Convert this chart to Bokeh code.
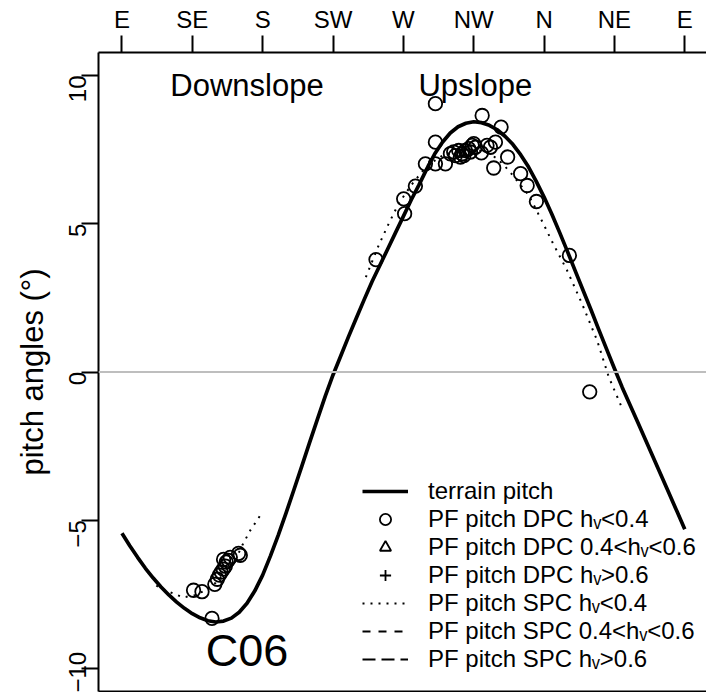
import math
from bokeh.plotting import figure
from bokeh.models import Range1d, LinearAxis, FixedTicker, Legend, LegendItem, Span, Label
from bokeh.embed import file_html
from bokeh.resources import INLINE

FONT = "Liberation Sans"
NAN = float("nan")

# ---- data -------------------------------------------------------------
dir_ticks = [90, 135, 180, 225, 270, 315, 360, 405, 450]
dir_labels = ["E", "SE", "S", "SW", "W", "NW", "N", "NE", "E"]
pitch_ticks = [-10, -5, 0, 5, 10]

terrain_dir = [90, 95, 100, 105, 110, 115, 120, 125, 130, 135, 140, 145, 150, 155, 160,
               165, 170, 175, 180, 185, 190, 195, 200, 205, 210, 215, 220, 225, 230, 235,
               240, 245, 250, 255, 260, 265, 270, 275, 280, 285, 290, 295, 300, 305, 310,
               315, 320, 325, 330, 335, 340, 345, 350, 355, 360, 365, 370, 375, 380, 385,
               390, 395, 400, 405, 410, 415, 420, 425, 430, 435, 440, 445, 450]
terrain_pitch = [-5.44, -5.86, -6.25, -6.62, -6.95, -7.25, -7.52, -7.76, -7.97, -8.15,
                 -8.29, -8.39, -8.43, -8.4, -8.3, -8.1, -7.8, -7.38, -6.85, -6.2,
                 -5.5, -4.75, -3.97, -3.18, -2.38, -1.6, -0.82, -0.1, 0.55, 1.2,
                 1.83, 2.45, 3.05, 3.6, 4.15, 4.7, 5.25, 5.8, 6.31, 6.85, 7.35, 7.75,
                 8.06, 8.27, 8.39, 8.44, 8.41, 8.32, 8.17, 7.95, 7.68, 7.33, 6.92, 6.43,
                 5.9, 5.32, 4.7, 4.06, 3.4, 2.75, 2.1, 1.43, 0.77, 0.12, -0.52, -1.11,
                 -1.7, -2.3, -2.9, -3.5, -4.1, -4.7, -5.3]

dpc_low_dir = [135.8, 141.2, 147.6, 149.4, 151.0, 152.3, 153.5, 154.8, 156.1, 156.7,
               158.0, 159.3, 155.0, 164.6, 165.7,
               252.5, 270.2, 270.8, 277.7, 284.1, 290.5, 296.9, 290.5, 290.5,
               300.1, 302.2, 303.3, 305.4, 306.5, 307.6, 309.7, 311.8, 314.0, 315.0,
               316.1, 312.9, 308.7, 319.9, 323.5, 325.7, 328.9, 320.4, 332.5, 336.7,
               327.8, 345.0, 349.2, 355.1, 376.2, 389.2]
dpc_low_pitch = [-7.36, -7.41, -8.31, -7.16, -6.99, -6.85, -6.75, -6.65, -6.55, -6.41,
                 -6.35, -6.25, -6.32, -6.12, -6.18,
                 3.79, 5.84, 5.34, 6.27, 7.02, 7.02, 7.02, 7.75, 9.05,
                 7.36, 7.42, 7.30, 7.47, 7.25, 7.36, 7.47, 7.53, 7.64, 7.70,
                 7.58, 7.42, 7.30, 7.39, 7.64, 7.58, 7.75, 8.65, 8.26, 7.25,
                 6.88, 6.69, 6.29, 5.75, 3.93, -0.67]

# no observations in these classes (shown in the legend only)
dpc_mid_dir, dpc_mid_pitch = [NAN], [NAN]
dpc_high_dir, dpc_high_pitch = [NAN], [NAN]

spc_low_down_dir = [112.0, 114.6, 120.9, 129.2, 136.9, 143.3, 149.7, 156.1, 162.5, 167.0,
                    172.1, 179.8]
spc_low_down_pitch = [-7.2, -7.3, -7.43, -7.6, -7.53, -7.36, -7.12, -6.75, -6.35, -5.84,
                      -5.34, -4.73]
spc_low_up_dir = [246.0, 254.2, 260.6, 267.0, 275.0, 285.0, 295.0, 305.0, 315.0, 322.0,
                  330.0, 337.4, 343.8, 350.2, 355.5, 360.0, 365.1, 374.7, 384.3, 393.9,
                  401.4, 410.0]
spc_low_up_pitch = [3.2, 4.27, 5.0, 5.68, 6.3, 6.95, 7.3, 7.45, 7.5, 7.45,
                    7.2, 6.8, 6.38, 5.96, 5.42, 4.95, 4.4, 3.43, 2.3, 1.07,
                    -0.17, -1.23]
spc_mid_dir, spc_mid_pitch = [NAN], [NAN]
spc_high_dir, spc_high_pitch = [NAN], [NAN]

legend_labels = ["terrain pitch", "PF pitch DPC h\u1d65<0.4", "PF pitch DPC 0.4<h\u1d65<0.6",
                 "PF pitch DPC h\u1d65>0.6", "PF pitch SPC h\u1d65<0.4",
                 "PF pitch SPC 0.4<h\u1d65<0.6", "PF pitch SPC h\u1d65>0.6"]

# ---- figure -----------------------------------------------------------
p = figure(width=706, height=692, output_backend="svg", toolbar_location=None,
           x_range=Range1d(75.0, 463.9), y_range=Range1d(-10.775, 10.775),
           x_axis_type=None, y_axis_type=None,
           min_border_left=98, min_border_top=52, min_border_bottom=1, min_border_right=0)
p.outline_line_color = None
p.background_fill_color = "white"
p.border_fill_color = "white"

top = LinearAxis(ticker=FixedTicker(ticks=dir_ticks),
                 major_label_overrides={t: l for t, l in zip(dir_ticks, dir_labels)})
left = LinearAxis(ticker=FixedTicker(ticks=pitch_ticks), axis_label="pitch angles (°)")
bottom = LinearAxis(ticker=FixedTicker(ticks=[]))
for ax in (top, left, bottom):
    ax.axis_line_width = 2
    ax.axis_line_color = "black"
    ax.major_tick_line_width = 2
    ax.major_tick_line_color = "black"
    ax.major_tick_in = 0
    ax.major_tick_out = 17
    ax.minor_tick_out = 0
    ax.minor_tick_in = 0
    ax.major_label_text_font = FONT
    ax.major_label_text_font_size = "24px"
    ax.major_label_text_color = "black"
    ax.axis_label_text_font = FONT
    ax.axis_label_text_font_style = "normal"
    ax.axis_label_text_font_size = "31px"
    ax.axis_label_text_color = "black"
top.major_label_standoff = 3
left.major_label_standoff = 4
left.major_label_orientation = math.pi / 2
left.axis_label_standoff = 8
bottom.major_tick_out = 0
bottom.major_label_text_font_size = "0px"
p.add_layout(top, "above")
p.add_layout(left, "left")
p.add_layout(bottom, "below")

p.add_layout(Span(location=0, dimension="width", line_color="#bebebe", line_width=2))

r_terrain = p.line(terrain_dir, terrain_pitch, line_color="black", line_width=3.7,
                   line_join="round")
r_dpc_low = p.scatter(dpc_low_dir, dpc_low_pitch, marker="circle", size=13.5,
                      fill_color=None, line_color="black", line_width=1.8)
r_dpc_mid = p.scatter(dpc_mid_dir, dpc_mid_pitch, marker="triangle", size=13.5,
                      fill_color=None, line_color="black", line_width=1.8)
r_dpc_high = p.scatter(dpc_high_dir, dpc_high_pitch, marker="cross", size=13.5,
                       fill_color=None, line_color="black", line_width=1.8)
r_spc_low1 = p.line(spc_low_down_dir, spc_low_down_pitch, line_color="black",
                    line_width=2, line_dash="2 6")
r_spc_low2 = p.line(spc_low_up_dir, spc_low_up_pitch, line_color="black",
                    line_width=2, line_dash="2 6")
r_spc_mid = p.line(spc_mid_dir, spc_mid_pitch, line_color="black", line_width=2,
                   line_dash="8 8")
r_spc_high = p.line(spc_high_dir, spc_high_pitch, line_color="black", line_width=2,
                    line_dash="13 6")

legend = Legend(items=[
    LegendItem(label=legend_labels[0], renderers=[r_terrain]),
    LegendItem(label=legend_labels[1], renderers=[r_dpc_low]),
    LegendItem(label=legend_labels[2], renderers=[r_dpc_mid]),
    LegendItem(label=legend_labels[3], renderers=[r_dpc_high]),
    LegendItem(label=legend_labels[4], renderers=[r_spc_low1]),
    LegendItem(label=legend_labels[5], renderers=[r_spc_mid]),
    LegendItem(label=legend_labels[6], renderers=[r_spc_high]),
], location=(264, 18))
legend.border_line_color = None
legend.background_fill_alpha = 0
legend.padding = 0
legend.margin = 0
legend.spacing = 0
legend.glyph_width = 46
legend.glyph_height = 28
legend.label_height = 28
legend.label_standoff = 20
legend.label_text_font = FONT
legend.label_text_font_size = "24px"
legend.label_text_color = "black"
p.add_layout(legend)

for txt, x, y, size in [("Downslope", 170, 9.66, "31px"), ("Upslope", 316, 9.66, "31px"),
                        ("C06", 170, -9.4, "45px")]:
    p.add_layout(Label(x=x, y=y, text=txt, text_align="center", text_baseline="alphabetic",
                       text_font=FONT, text_font_size=size, text_color="black"))

open("out.html", "w").write(file_html(p, INLINE))
